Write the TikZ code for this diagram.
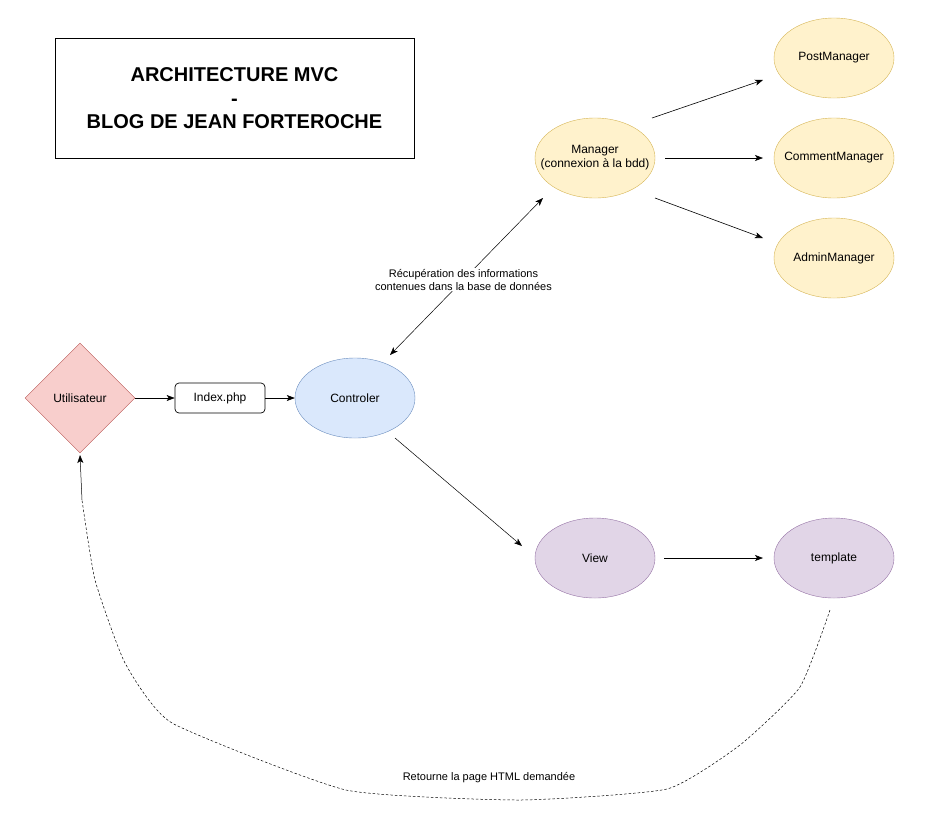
\documentclass[tikz,border=0pt]{standalone}
\usepackage{fontspec}
\setmainfont{Liberation Sans}
\usetikzlibrary{arrows.meta,calc,shapes.geometric}
\definecolor{yfill}{HTML}{FFF2CC}\definecolor{ydraw}{HTML}{D6B656}
\definecolor{bfill}{HTML}{DAE8FC}\definecolor{bdraw}{HTML}{6C8EBF}
\definecolor{rfill}{HTML}{F8CECC}\definecolor{rdraw}{HTML}{B85450}
\definecolor{pfill}{HTML}{E1D5E7}\definecolor{pdraw}{HTML}{9673A6}
\newcommand{\zw}[1]{\makebox[0pt][c]{#1}}
\begin{document}
\begin{tikzpicture}[x=1pt,y=-1pt,
  ell/.style={ellipse,minimum width=120pt,minimum height=80pt,inner sep=0pt,font=\fontsize{12}{14}\selectfont,align=center},
  yel/.style={ell,fill=yfill,draw=ydraw},
  blu/.style={ell,fill=bfill,draw=bdraw},
  pur/.style={ell,fill=pfill,draw=pdraw},
  arr/.style={-{Stealth[length=8pt,width=6pt,inset=2pt]},line width=0.6pt},
  lbl/.style={font=\fontsize{11}{13}\selectfont,align=center}]
\useasboundingbox (0,0) rectangle (931,823);
\fill[white] (0,0) rectangle (931,823);
% title
\node[draw,line width=0.8pt,minimum width=359pt,minimum height=120pt,align=center,
  font=\fontsize{20}{23.5}\selectfont\bfseries] (title) at (234.5,98.5) {ARCHITECTURE MVC\\-\\BLOG DE JEAN FORTEROCHE};
% nodes
\node[yel] (man) at (595,158) {\zw{Manager}\\\zw{(connexion à la bdd)}};
\node[yel] (post) at (834,58) {\zw{PostManager}};
\node[yel] (com) at (834,158) {\zw{CommentManager}};
\node[yel] (adm) at (834,258) {\zw{AdminManager}};
\node[blu] (ctrl) at (355,398) {Controler};
\node[pur] (view) at (595,558) {View};
\node[pur] (tmpl) at (834,558) {template};
\node[diamond,fill=rfill,draw=rdraw,minimum width=110pt,minimum height=110pt,inner sep=0pt,
  font=\fontsize{12}{14}\selectfont] (user) at (80,398) {\zw{Utilisateur}};
\node[draw,rounded corners=4pt,minimum width=90pt,minimum height=30pt,inner sep=0pt,
  line width=0.7pt,font=\fontsize{12}{14}\selectfont] (idx) at (220,398) {Index.php};
% connectors
\draw[arr] (user.east) -- (idx.west);
\draw[arr] (idx.east) -- (ctrl.west);
\draw[{Stealth[length=8pt,width=6pt,inset=2pt]}-{Stealth[length=8pt,width=6pt,inset=2pt]},line width=0.5pt]
  ($(ctrl)+(35,-43)$) -- node[lbl,fill=white,inner sep=1pt,pos=0.48] {Récupération des informations\\contenues dans la base de données} ($(man)+(-52,40)$);
\draw[arr] ($(man)+(57,-40)$) -- ($(post)+(-71,22)$);
\draw[arr] ($(man)+(70,0)$) -- ($(com)+(-71,0)$);
\draw[arr] ($(man)+(60,40)$) -- ($(adm)+(-71,-20)$);
\draw[arr,line width=0.5pt] ($(ctrl)+(40,40)$) -- ($(view)+(-73,-12)$);
\draw[arr] ($(view)+(69,0)$) -- ($(tmpl)+(-71,0)$);
\coordinate (d0) at ($(tmpl)+(-4,52)$);
\coordinate (d9) at ($(user)+(0,57)$);
\draw[dash pattern=on 2.5pt off 2pt,line width=0.5pt]
  plot[smooth,tension=0.3] coordinates {(d0) (800,687) (740,745) (667,789) (520,800) (346,790) (172,723) (125,663) (95,580) (82,500)};
\draw[arr,line width=0.5pt] (82,500) -- (d9);
\node[lbl] (ret) at (489,778) {Retourne la page HTML demandée};
\end{tikzpicture}
\end{document}
